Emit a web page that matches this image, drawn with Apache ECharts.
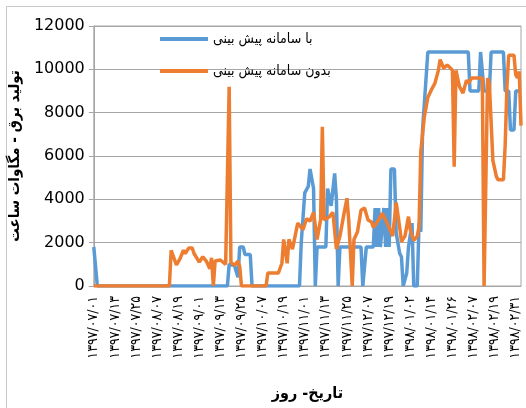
<!DOCTYPE html>
<html>
<head>
<meta charset="utf-8">
<script src="https://cdn.jsdelivr.net/npm/echarts@6/dist/echarts.min.js"></script>
<style>
html,body{margin:0;padding:0;background:#fff;}
#chart{width:526px;height:408px;}
</style>
</head>
<body>
<div id="chart"></div>
<script>
// Tick labels (every 12 days)
const xTickLabels = [
  "۱۳۹۷/۰۷/۰۱","۱۳۹۷/۰۷/۱۳","۱۳۹۷/۰۷/۲۵","۱۳۹۷/۰۸/۰۷","۱۳۹۷/۰۸/۱۹",
  "۱۳۹۷/۰۹/۰۱","۱۳۹۷/۰۹/۱۳","۱۳۹۷/۰۹/۲۵","۱۳۹۷/۱۰/۰۷","۱۳۹۷/۱۰/۱۹",
  "۱۳۹۷/۱۱/۰۱","۱۳۹۷/۱۱/۱۳","۱۳۹۷/۱۱/۲۵","۱۳۹۷/۱۲/۰۷","۱۳۹۷/۱۲/۱۹",
  "۱۳۹۸/۰۱/۰۲","۱۳۹۸/۰۱/۱۴","۱۳۹۸/۰۱/۲۶","۱۳۹۸/۰۲/۰۷","۱۳۹۸/۰۲/۱۹",
  "۱۳۹۸/۰۲/۳۱"
];
const seriesNames = ["با سامانه پیش بینی", "بدون سامانه پیش بینی"];
const yTicks = [0, 2000, 4000, 6000, 8000, 10000, 12000];

// Series 1 (with forecasting system): day index and value
const blueDays = [0,1,2,76,77,80,82,83,85,86,89,90,117,118,120,122,123,124,125,126,127,132,133,135,137,138,139,140,152,153,155,159,160,161,162,163,165,166,167,168,169,171,172,174,175,176,178,179,181,182,184,185,186,187,190,213,214,219,220,221,222,225,226,233,234,236,237,239,240,243];
const blueValues = [1800,1800,0,0,1000,950,400,1800,1800,1450,1450,0,0,2000,4300,4600,5400,5400,4500,0,1800,1800,4500,3700,5200,4000,0,1800,1800,0,1800,1800,3600,1800,3600,1800,3600,1800,3600,1800,5400,5400,2450,1500,1350,0,600,1800,2900,0,0,2900,2500,7200,10800,10800,9000,9000,10800,10800,9000,9000,10800,10800,9000,9000,7200,7200,9000,9000];

// Series 2 (without forecasting system)
const orangeDays = [0,43,44,47,49,51,52,54,56,57,60,62,64,66,67,68,69,72,75,76,77,78,80,82,83,84,98,99,105,107,108,110,111,113,116,119,121,123,125,127,129,130,131,134,136,138,140,142,144,145,147,148,150,152,154,156,158,159,162,164,166,168,170,172,174,175,177,179,180,182,184,185,186,188,190,192,194,196,197,199,201,203,204,205,206,208,210,212,213,215,221,222,224,225,227,229,230,233,234,235,236,239,240,241,242,243];
const orangeValues = [0,0,1650,970,1250,1650,1500,1750,1750,1500,1100,1350,1150,800,1300,0,1150,1200,1000,1000,9200,1100,950,1150,900,0,0,600,600,1050,2150,1050,2150,1700,2900,2600,3100,3000,3400,2150,3050,7350,3050,3200,3400,1700,2300,3200,4050,3050,0,2150,2500,3500,3600,3050,2950,2700,3050,3350,3050,2700,2300,3850,2700,2050,2300,3200,2600,2100,2300,2750,6200,7800,8700,9050,9350,9950,10450,10050,10200,10050,9950,5500,9950,9200,8900,9500,9350,9600,9600,0,9600,9350,5800,5050,4900,4900,6500,9200,10650,10650,9750,9600,9900,7400];

const pair = (d, v) => d.map((x, i) => [x, v[i]]);

const chart = echarts.init(document.getElementById('chart'), null, {renderer: 'canvas'});
const arabicFont = '"DejaVu Sans Condensed", "DejaVu Sans", sans-serif';
chart.setOption({
  animation: false,
  backgroundColor: '#fff',
  graphic: [{
    type: 'rect', silent: true,
    shape: {x: 6.5, y: 6.5, width: 600, height: 600},
    style: {fill: 'none', stroke: '#c8c8c8', lineWidth: 1}
  }],
  grid: {left: 92, right: 5, top: 26, bottom: 122, show: true, borderColor: '#a6a6a6', borderWidth: 1, backgroundColor: 'transparent'},
  legend: {
    orient: 'vertical', left: 155, top: 27, itemGap: 18,
    icon: 'rect', itemWidth: 48, itemHeight: 4,
    textStyle: {fontSize: 14, color: '#000', fontFamily: arabicFont},
    data: seriesNames
  },
  xAxis: {
    type: 'value', min: 0, max: 243, interval: 12,
    name: 'تاریخ- روز', nameLocation: 'middle', nameGap: 100,
    nameTextStyle: {fontSize: 16, fontWeight: 'bold', color: '#000', fontFamily: arabicFont},
    axisLine: {show: true, lineStyle: {color: '#a6a6a6'}},
    axisTick: {show: false},
    splitLine: {show: false},
    axisLabel: {
      rotate: 90, fontSize: 14, color: '#000', margin: 10, fontFamily: arabicFont,
      showMaxLabel: false,
      formatter: v => (v % 12 === 0 ? (xTickLabels[v / 12] || '') : '')
    }
  },
  yAxis: {
    type: 'value', min: 0, max: 12000, interval: 2000,
    name: 'تولید برق - مگاوات ساعت', nameLocation: 'middle', nameGap: 43, nameRotate: 90,
    nameTextStyle: {fontSize: 15, fontWeight: 'bold', color: '#000', fontFamily: arabicFont},
    axisLine: {show: true, lineStyle: {color: '#a6a6a6'}},
    axisTick: {show: true, length: 5, lineStyle: {color: '#a6a6a6'}},
    splitLine: {lineStyle: {color: '#a6a6a6'}},
    axisLabel: {fontSize: 16, color: '#000', margin: 9, fontFamily: '"DejaVu Sans", sans-serif',
      formatter: v => (yTicks.indexOf(v) >= 0 ? String(v) : '')}
  },
  series: [
    {name: seriesNames[0], type: 'line', data: pair(blueDays, blueValues), showSymbol: false,
     color: '#5B9BD5', lineStyle: {width: 3.5, color: '#5B9BD5'}},
    {name: seriesNames[1], type: 'line', data: pair(orangeDays, orangeValues), showSymbol: false,
     color: '#ED7D31', lineStyle: {width: 3.5, color: '#ED7D31'}}
  ]
});
</script>
</body>
</html>
